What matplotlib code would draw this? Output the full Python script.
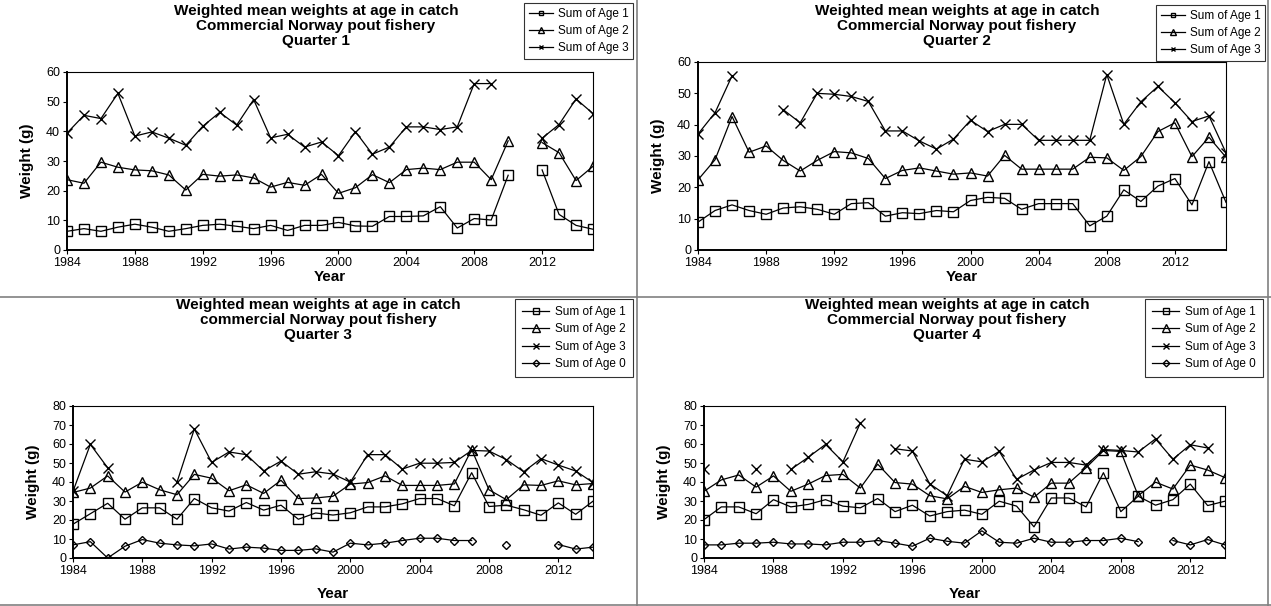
# Weighted mean weights at age in catch, Norway pout fishery, by quarter (4 panels).
import numpy as np
import matplotlib
matplotlib.use('Agg')
import matplotlib.pyplot as plt
from matplotlib.lines import Line2D

plt.rcParams['font.family'] = ['Liberation Sans', 'DejaVu Sans']

nan = np.nan

years_q12 = list(range(1984, 2016))
years_q34 = list(range(1984, 2015))

# Quarter 1
q1_age1 = [6.3, 7.2, 6.3, 7.7, 8.7, 7.7, 6.3, 7.2, 8.3, 8.7,
           8.0, 7.2, 8.3, 6.6, 8.3, 8.3, 9.3, 8.1, 8.0, 11.3,
           11.3, 11.5, 14.6, 7.4, 10.6, 10.1, 25.2, nan, 27.0, 12.0,
           8.3, 7.0]
q1_age2 = [23.7, 22.5, 29.6, 27.9, 27.0, 26.7, 25.3, 20.2, 25.5, 24.9,
           25.3, 24.3, 21.2, 22.8, 21.8, 25.5, 19.1, 21.0, 25.4, 22.7,
           27.1, 27.6, 27.1, 29.6, 29.6, 23.7, 36.8, nan, 36.2, 32.8,
           23.4, 28.2]
q1_age3 = [39.4, 45.4, 44.3, 52.8, 38.4, 39.8, 37.7, 35.3, 41.7, 46.4,
           42.1, 50.7, 37.8, 39.0, 34.7, 36.4, 31.8, 39.9, 32.3, 34.7,
           41.5, 41.5, 40.6, 41.5, 56.1, 56.1, nan, nan, 37.7, 42.3,
           50.9, 46.0]

# Quarter 2
q2_age1 = [8.9, 12.6, 14.4, 12.6, 11.4, 13.4, 13.8, 13.0, 11.4, 14.8,
           15.1, 10.8, 11.9, 11.6, 12.6, 12.2, 15.8, 16.8, 16.5, 13.0,
           14.8, 14.8, 14.8, 7.7, 10.8, 19.2, 15.5, 20.4, 22.8, 14.4,
           28.2, 15.2]
q2_age2 = [22.4, 28.8, 42.6, 31.2, 33.2, 28.6, 25.2, 28.6, 31.4, 31.0,
           29.2, 22.8, 25.4, 26.2, 25.2, 24.2, 24.6, 23.6, 30.2, 25.8,
           25.8, 25.8, 25.8, 29.6, 29.4, 25.4, 29.8, 37.8, 40.6, 29.8,
           36.0, 29.6]
q2_age3 = [37.0, 43.8, 55.6, nan, nan, 44.8, 40.6, 50.0, 49.7, 49.0,
           47.4, 38.0, 38.0, 34.8, 32.2, 35.4, 41.4, 37.8, 40.1, 40.1,
           35.0, 35.0, 35.0, 35.0, 56.0, 40.1, 47.3, 52.2, 47.0, 41.0,
           42.8, 31.0]

# Quarter 3
q3_age1 = [17.8, 23.3, 28.8, 20.4, 26.4, 26.4, 20.4, 31.3, 26.4, 24.7,
           29.2, 25.2, 27.8, 20.4, 23.7, 22.6, 23.8, 26.9, 26.9, 28.5,
           31.3, 31.3, 27.5, 44.9, 27.1, 27.8, 25.4, 22.5, 29.0, 23.0,
           29.9]
q3_age2 = [34.5, 36.8, 43.2, 34.7, 39.9, 35.9, 33.3, 44.0, 42.0, 35.4,
           38.5, 34.0, 40.9, 31.3, 31.6, 32.5, 38.9, 39.7, 43.2, 38.2,
           38.2, 38.2, 39.0, 57.1, 35.9, 30.7, 38.5, 38.2, 40.6, 38.5,
           39.2]
q3_age3 = [35.1, 59.8, 47.5, nan, nan, nan, 39.9, 67.9, 50.3, 55.8,
           54.4, 45.8, 51.0, 44.1, 45.4, 44.2, 39.9, 54.4, 54.4, 46.8,
           49.9, 49.9, 50.3, 56.6, 56.3, 51.8, 45.4, 52.3, 48.9, 45.8,
           39.7]
q3_age0 = [6.9, 8.6, 0.0, 6.2, 9.7, 7.8, 6.9, 6.4, 7.4, 4.7,
           5.7, 5.2, 4.0, 4.0, 4.8, 3.1, 7.8, 6.9, 7.8, 9.2,
           10.4, 10.4, 9.2, 9.2, nan, 6.9, nan, nan, 7.1, 4.7,
           5.7]

# Quarter 4
q4_age1 = [20.2, 26.9, 26.9, 23.3, 30.7, 26.9, 28.2, 30.7, 27.3, 26.4,
           31.3, 24.4, 27.8, 22.1, 24.4, 25.2, 23.0, 29.9, 27.3, 16.4,
           31.6, 31.6, 26.9, 44.9, 24.4, 32.5, 27.8, 30.7, 38.9, 27.6,
           29.9]
q4_age2 = [35.1, 41.1, 43.7, 37.3, 43.2, 35.1, 38.9, 43.4, 44.0, 36.8,
           49.4, 39.7, 38.9, 32.8, 31.1, 37.7, 34.5, 35.9, 36.8, 32.0,
           39.4, 39.4, 47.5, 56.6, 56.1, 32.8, 39.9, 36.3, 48.9, 46.3,
           42.3]
q4_age3 = [46.6, nan, nan, 46.6, nan, 46.6, 53.0, 59.8, 50.6, 71.0,
           nan, 57.5, 56.3, 39.0, 32.8, 52.0, 50.6, 56.1, 41.4, 46.3,
           50.3, 50.3, 48.9, 57.1, 56.6, 55.8, 62.7, 52.0, 59.6, 57.9,
           nan]
q4_age0 = [6.9, 6.9, 7.8, 7.8, 8.3, 7.4, 7.4, 6.9, 8.3, 8.3,
           9.2, 7.8, 6.2, 10.4, 8.8, 7.8, 14.3, 8.3, 7.8, 10.4,
           8.3, 8.3, 9.2, 9.2, 10.4, 8.6, nan, 9.2, 6.9, 9.7,
           6.9]

series_labels = ['Sum of Age 1', 'Sum of Age 2', 'Sum of Age 3', 'Sum of Age 0']
titles = [
    'Weighted mean weights at age in catch\nCommercial Norway pout fishery\nQuarter 1',
    'Weighted mean weights at age in catch\nCommercial Norway pout fishery\nQuarter 2',
    'Weighted mean weights at age in catch\ncommercial Norway pout fishery\nQuarter 3',
    'Weighted mean weights at age in catch\nCommercial Norway pout fishery\nQuarter 4',
]

STYLES = [
    dict(marker='s', markersize=6.5),
    dict(marker='^', markersize=7.5),
    dict(marker='x', markersize=6.5, markeredgewidth=1.0),
    dict(marker='D', markersize=4.5),
]

W, H = 1271, 606
fig = plt.figure(figsize=(W / 100, H / 100), dpi=100)


def px_axes(left, top, right, bottom):
    return fig.add_axes([left / W, 1 - bottom / H, (right - left) / W, (bottom - top) / H])


panels = [
    dict(box=(67, 72, 593, 250), years=years_q12, data=[q1_age1, q1_age2, q1_age3],
         ymax=60, title_xy=(316, 4), legend=(633, 3), small=True, xpad=1),
    dict(box=(698, 62, 1226, 250), years=years_q12, data=[q2_age1, q2_age2, q2_age3],
         ymax=60, title_xy=(957, 4), legend=(1265, 5), small=True, xpad=1),
    dict(box=(73, 406, 593, 558), years=years_q34, data=[q3_age1, q3_age2, q3_age3, q3_age0],
         ymax=80, title_xy=(318, 298), legend=(633, 299), small=False, xpad=7),
    dict(box=(704, 406, 1225, 558), years=years_q34, data=[q4_age1, q4_age2, q4_age3, q4_age0],
         ymax=80, title_xy=(947, 298), legend=(1263, 299), small=False, xpad=7),
]

for p, title in zip(panels, titles):
    ax = px_axes(*p['box'])
    handles = []
    scale = 0.5 if p['small'] else 0.75
    for vals, style, lab in zip(p['data'], STYLES, series_labels):
        ax.plot(p['years'], vals, color='black', linewidth=0.9,
                markerfacecolor='none', markeredgecolor='black', **style)
        handles.append(Line2D([], [], color='black', linewidth=0.9,
                              markerfacecolor='none', markeredgecolor='black',
                              marker=style['marker'],
                              markersize=style['markersize'] * scale, label=lab))
    ax.set_xlim(p['years'][0], p['years'][-1])
    ax.set_ylim(0, p['ymax'])
    ax.set_xticks(range(1984, 2013, 4))
    ax.set_yticks(range(0, p['ymax'] + 1, 10))
    ax.tick_params(labelsize=9, length=3, direction='out', width=0.8, pad=2)
    for s in ax.spines.values():
        s.set_linewidth(0.8)
    ax.spines['left'].set_linewidth(1.4)
    ax.spines['bottom'].set_linewidth(1.4)
    ax.set_xlabel('Year', fontsize=11, fontweight='bold', labelpad=p['xpad'])
    ax.set_ylabel('Weight (g)', fontsize=11, fontweight='bold', labelpad=9)

    tx, ty = p['title_xy']
    fig.text(tx / W, 1 - ty / H, title, ha='center', va='top',
             fontsize=11, fontweight='bold', linespacing=1.1)

    lx1, ly0 = p['legend']
    if p['small']:
        leg_kw = dict(handlelength=2.0, handletextpad=0.4, borderpad=0.4)
    else:
        leg_kw = dict(handlelength=2.3, handletextpad=0.5, borderpad=0.6)
    leg = fig.legend(handles=handles, loc='upper right',
                     bbox_to_anchor=(lx1 / W, 1 - ly0 / H),
                     fontsize=8.5, frameon=True, fancybox=False,
                     labelspacing=0.45, borderaxespad=0, **leg_kw)
    leg.get_frame().set_edgecolor('black')
    leg.get_frame().set_linewidth(0.8)

# grey panel borders
border = dict(color='#808080', linewidth=1.2, transform=fig.transFigure)
fig.add_artist(Line2D([637 / W, 637 / W], [0, 1], **border))
fig.add_artist(Line2D([0, 1], [1 - 297 / H, 1 - 297 / H], **border))
fig.add_artist(Line2D([1268 / W, 1268 / W], [0, 1], **border))
fig.add_artist(Line2D([0, 1], [1 / H, 1 / H], **border))

fig.savefig('out.png', dpi=100)
